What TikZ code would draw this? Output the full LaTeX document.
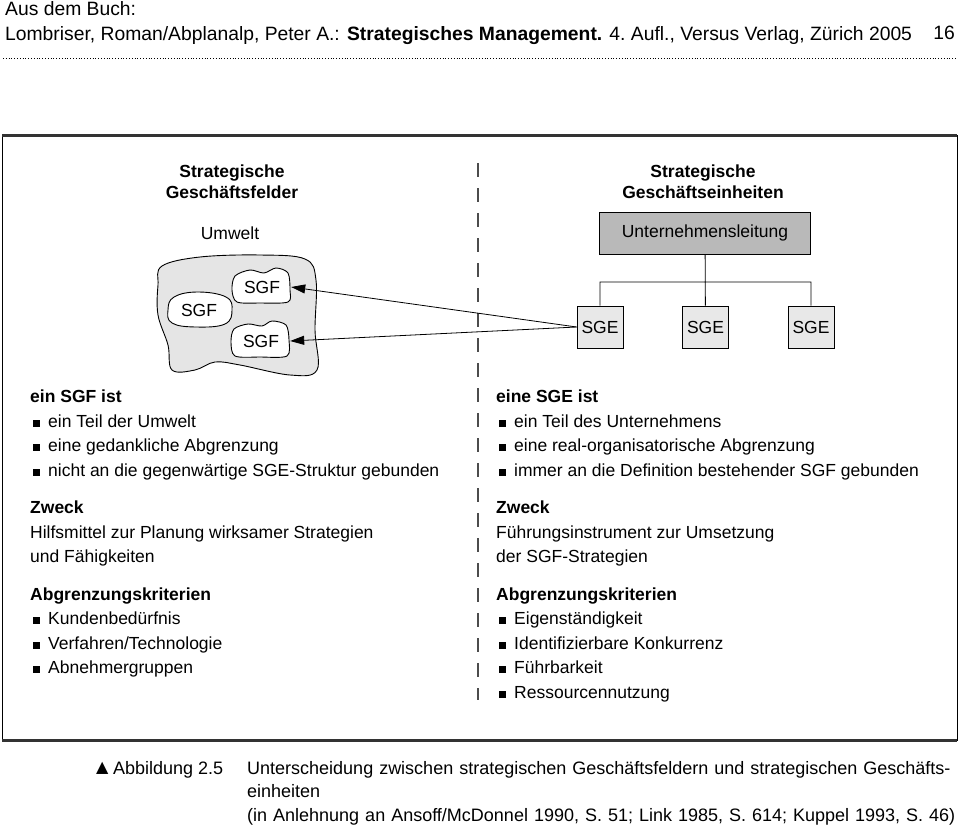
\documentclass[tikz,border=0pt]{standalone}
\usepackage{fontspec}
\setmainfont{Liberation Sans}
\newfontfamily\symfont{DejaVu Sans}
\usetikzlibrary{arrows.meta}

\newcommand{\sq}{\hspace*{3pt}\rule[0.5pt]{7pt}{7pt}\hspace{8pt}}

\begin{document}
\begin{tikzpicture}[x=1pt,y=-1pt,>={Triangle[length=14pt,width=9pt]},node distance=105.5pt,
	txt/.style={anchor=north west,align=left,inner sep=0pt,font=\fontsize{17.5}{24.5}\selectfont},
	kopf/.style={txt,font=\fontsize{19.3}{24}\selectfont},
	ttl/.style={align=center,inner sep=0pt,font=\fontsize{17.5}{21}\selectfont\bfseries},
	sgf/.style={inner sep=0pt,minimum width=58pt,minimum height=32pt,font=\fontsize{17.5}{20}\selectfont},
	sge/.style={draw,fill=gray!18,line width=0.8pt,minimum width=46pt,minimum height=42pt,inner sep=0pt,font=\fontsize{17.5}{20}\selectfont},
	blob/.style={draw,fill=white,line width=0.9pt}]

\useasboundingbox (0,0) rectangle (960,827);

\node[kopf] 	(buch) 	at (5,1) 	{Aus dem Buch:};
\node[kopf] 	(quelle) 	at (5,26) 	{Lombriser, Roman/Abplanalp, Peter A.: \textbf{Strategisches Management.} 4.~Aufl., Versus Verlag, Zürich 2005};
\node[kopf,anchor=north east] 	(seite) 	at (955,26) 	{16};
\draw[line width=1pt,dash pattern=on 1pt off 1.8pt] (3,58) -- (957,58);

\draw[line width=0.8pt] (2,135) rectangle (957,740);
\draw[line width=3pt,gray!40!black] (2,135) -- (957,135) (2,740) -- (957,740);

\draw[line width=1.2pt,gray!60!black,dash pattern=on 14pt off 11pt] (478,163) -- (478,700);

\node[ttl] 	(sgf titel) 	at (232,182) 	{Strategische\\Geschäftsfelder};
\node[ttl] 	(sge titel) 	at (703,182) 	{Strategische\\Geschäftseinheiten};
\node[txt,anchor=center] 	(umwelt) 	at (230,233) 	{Umwelt};

\draw[blob,fill=gray!20] plot[smooth cycle,tension=0.6] coordinates {(162,266) (200,257) (260,255) (305,259) (316,280) (315,330) (317,370) (290,375) (240,365) (215,362) (195,370) (172,370) (168,345) (158,315) (158,285)};
\draw[blob] plot[smooth cycle,tension=0.5] coordinates {(235,276) (250,270) (264,273) (276,268) (288,273) (290,290) (288,302) (260,303) (237,302) (232,290)};
\draw[blob] plot[smooth cycle,tension=0.5] coordinates {(234,329) (248,324) (262,326) (272,321) (286,325) (289,340) (287,356) (260,357) (235,356) (231,342)};
\draw[blob] plot[smooth cycle,tension=0.7] coordinates {(174,297) (198,292) (226,297) (232,310) (225,324) (196,327) (172,323) (168,310)};

\node[sgf] 	(sgf1) 	at (262,287) 	{SGF};
\node[sgf] 	(sgf2) 	at (199,310) 	{SGF};
\node[sgf] 	(sgf3) 	at (261,341) 	{SGF};

\node[sge,fill=gray!55,minimum width=211pt] 	(leitung) 	at (705,233) 	{Unternehmensleitung};
\node[sge] 	(sge1) 	at (600,327) 	{SGE};
\node[sge] 	(sge2) 	[right of=sge1] 	{SGE};
\node[sge] 	(sge3) 	[right of=sge2] 	{SGE};
\coordinate 	(gabel) 	at (705,282);

\draw[line width=0.8pt] (leitung) -- (sge2)
	(sge1.north) |- (gabel) -| (sge3.north);

\draw[->,line width=0.8pt] (sge1.west) -- (sgf1.east);
\draw[->,line width=0.8pt] (sge1.west) -- (sgf3.east);

\node[txt] 	(sgf text) 	at (30,390) 	{\textbf{ein SGF ist}\\
	\sq ein Teil der Umwelt\\
	\sq eine gedankliche Abgrenzung\\
	\sq nicht an die gegenwärtige SGE-Struktur gebunden\\[13pt]
	\textbf{Zweck}\\
	Hilfsmittel zur Planung wirksamer Strategien\\
	und Fähigkeiten\\[13pt]
	\textbf{Abgrenzungskriterien}\\
	\sq Kundenbedürfnis\\
	\sq Verfahren/Technologie\\
	\sq Abnehmergruppen};

\node[txt] 	(sge text) 	at (496,390) 	{\textbf{eine SGE ist}\\
	\sq ein Teil des Unternehmens\\
	\sq eine real-organisatorische Abgrenzung\\
	\sq immer an die Definition bestehender SGF gebunden\\[13pt]
	\textbf{Zweck}\\
	Führungsinstrument zur Umsetzung\\
	der SGF-Strategien\\[13pt]
	\textbf{Abgrenzungskriterien}\\
	\sq Eigenständigkeit\\
	\sq Identifizierbare Konkurrenz\\
	\sq Führbarkeit\\
	\sq Ressourcennutzung};

\node[txt,anchor=west] 	(dreieck) 	at (96,768) 	{\symfont\fontsize{16}{16}\selectfont ▲};
\node[txt,font=\fontsize{18}{23.5}\selectfont] 	(abb) 	at (113,761) 	{Abbildung 2.5};
\node[txt,text width=712pt,font=\fontsize{18}{23.5}\selectfont] 	(legende) 	at (247,761) 	{Unterscheidung zwischen strategischen Geschäftsfeldern und strategischen Geschäfts-\\
	einheiten\\
	(in Anlehnung an Ansoff/McDonnel 1990, S.~51; Link 1985, S.~614; Kuppel 1993, S.~46)};

\end{tikzpicture}
\end{document}
